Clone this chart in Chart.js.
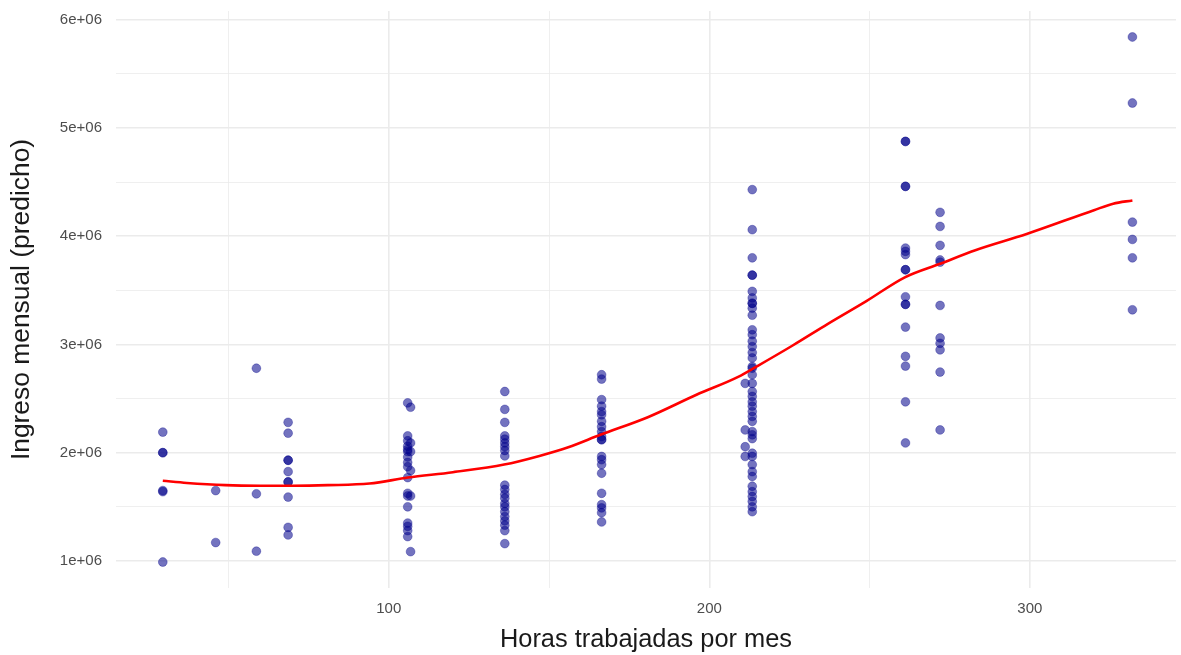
<!DOCTYPE html>
<html>
<head>
<meta charset="utf-8">
<title>Ingreso mensual vs horas</title>
<script src="https://cdn.jsdelivr.net/npm/chart.js@4.4.1/dist/chart.umd.min.js"></script>
<style>
  body { margin: 0; background: #fff; }
  #wrap { width: 1181px; height: 655px; position: relative; }
</style>
</head>
<body>
<div id="wrap"><canvas id="grafico"></canvas></div>
<script>
// Horas trabajadas por mes (cada grupo de puntos)
const horas = [29.5, 46, 58.7, 68.6, 105.9, 106.8, 136.2, 166.4, 211.2, 213.4, 261.2, 272, 332];

// Ingreso mensual predicho por grupo (en millones)
const ingresos = [
  [2.19, 2.00, 2.00, 1.64, 1.65, 0.99],
  [1.65, 1.17],
  [2.78, 1.62, 1.09],
  [2.28, 2.18, 1.93, 1.93, 1.825, 1.73, 1.73, 1.59, 1.31, 1.24],
  [2.46, 2.155, 2.11, 2.06, 2.03, 2.01, 1.96, 1.91, 1.87, 1.77, 1.625, 1.60, 1.50, 1.35, 1.32, 1.28, 1.225],
  [2.42, 2.09, 2.01, 1.835, 1.60, 1.086],
  [2.565, 2.40, 2.28, 2.155, 2.125, 2.09, 2.055, 2.02, 1.97, 1.70, 1.66, 1.615, 1.58, 1.53, 1.50, 1.455, 1.41, 1.37, 1.33, 1.28, 1.16],
  [2.72, 2.68, 2.49, 2.43, 2.38, 2.35, 2.29, 2.24, 2.195, 2.15, 2.12, 2.12, 1.965, 1.935, 1.89, 1.81, 1.625, 1.52, 1.49, 1.445, 1.36],
  [2.64, 2.21, 2.055, 1.965],
  [4.43, 4.06, 3.80, 3.64, 3.64, 3.49, 3.43, 3.38, 3.38, 3.335, 3.27, 3.135, 3.09, 3.03, 2.98, 2.925, 2.875, 2.795,
   2.78, 2.72, 2.64, 2.565, 2.52, 2.47, 2.43, 2.38, 2.335, 2.29, 2.195, 2.165, 2.13, 1.995, 1.965, 1.89, 1.825,
   1.78, 1.69, 1.64, 1.595, 1.55, 1.50, 1.455],
  [4.875, 4.875, 4.46, 4.46, 3.89, 3.86, 3.83, 3.69, 3.69, 3.44, 3.37, 3.37, 3.16, 2.89, 2.80, 2.47, 2.09],
  [4.22, 4.09, 3.915, 3.78, 3.76, 3.36, 3.06, 3.01, 2.95, 2.745, 2.21],
  [5.84, 5.23, 4.13, 3.97, 3.80, 3.32]
];

// Curva suavizada (loess)
const curvaHoras = [29.5, 37, 49, 60, 70, 81, 94, 106, 120, 136, 147, 156, 166, 181, 196, 209, 215, 226, 237, 249, 261, 272, 283, 299, 320, 326, 332];
const curvaIngreso = [1.74, 1.72, 1.70, 1.695, 1.695, 1.70, 1.715, 1.77, 1.82, 1.89, 1.97, 2.05, 2.165, 2.33, 2.535, 2.70, 2.80, 2.99, 3.19, 3.40, 3.62, 3.745, 3.87, 4.02, 4.24, 4.30, 4.33];

// Marcas de los ejes
const ticksX = [50, 100, 150, 200, 250, 300];
const etiquetasX = ['', '100', '', '200', '', '300'];
const ticksY = [1, 1.5, 2, 2.5, 3, 3.5, 4, 4.5, 5, 5.5, 6];
const etiquetasY = ['1e+06', '', '2e+06', '', '3e+06', '', '4e+06', '', '5e+06', '', '6e+06'];

const puntos = [];
horas.forEach(function(h, i) {
  ingresos[i].forEach(function(v) { puntos.push({x: h, y: v * 1e6}); });
});
const curva = curvaHoras.map(function(h, i) { return {x: h, y: curvaIngreso[i] * 1e6}; });

const fuente = 'Liberation Sans, Arial, sans-serif';
function esMayor(lista, etiquetas, v) {
  const i = lista.indexOf(v);
  return i >= 0 && etiquetas[i] !== '';
}

const ctx = document.getElementById('grafico').getContext('2d');
new Chart(ctx, {
  type: 'scatter',
  data: {
    datasets: [
      {
        type: 'line',
        data: curva,
        borderColor: '#ff0000',
        borderWidth: 2.6,
        pointRadius: 0,
        fill: false,
        cubicInterpolationMode: 'monotone'
      },
      {
        data: puntos,
        backgroundColor: 'rgba(0, 0, 139, 0.55)',
        borderColor: 'rgba(0, 0, 139, 0.55)',
        borderWidth: 0.6,
        pointRadius: 4.4
      }
    ]
  },
  options: {
    responsive: true,
    maintainAspectRatio: false,
    animation: false,
    layout: { padding: { top: 11, right: 0, left: 0, bottom: 0 } },
    plugins: { legend: { display: false }, tooltip: { enabled: false } },
    scales: {
      x: {
        type: 'linear',
        min: 14.9,
        max: 345.6,
        afterBuildTicks: function(s) { s.ticks = ticksX.map(function(v) { return {value: v}; }); },
        afterFit: function(s) { s.height = 67; s.paddingRight = 0; s.paddingLeft = 0; },
        border: { display: false },
        grid: {
          drawTicks: true,
          tickLength: 12,
          tickColor: 'rgba(0,0,0,0)',
          color: '#ebebeb',
          lineWidth: function(c) { return esMayor(ticksX, etiquetasX, c.tick.value) ? 1.6 : 0.8; }
        },
        ticks: {
          autoSkip: false,
          maxRotation: 0,
          padding: 0,
          color: '#4d4d4d',
          font: { family: fuente, size: 15 },
          callback: function(v) { return etiquetasX[ticksX.indexOf(v)]; }
        },
        title: {
          display: true,
          text: 'Horas trabajadas por mes',
          color: '#1a1a1a',
          font: { family: fuente, size: 25.4 },
          padding: { top: 0, bottom: 0 }
        }
      },
      y: {
        type: 'linear',
        min: 0.75e6,
        max: 6.08e6,
        afterBuildTicks: function(s) { s.ticks = ticksY.map(function(v) { return {value: v * 1e6}; }); },
        afterFit: function(s) { s.width = 116; },
        border: { display: false },
        grid: {
          drawTicks: true,
          tickLength: 14,
          tickColor: 'rgba(0,0,0,0)',
          color: '#ebebeb',
          lineWidth: function(c) { return esMayor(ticksY, etiquetasY, c.tick.value / 1e6) ? 1.6 : 0.8; }
        },
        ticks: {
          autoSkip: false,
          padding: 0,
          color: '#4d4d4d',
          font: { family: fuente, size: 15 },
          callback: function(v) { return etiquetasY[ticksY.indexOf(v / 1e6)]; }
        },
        title: {
          display: true,
          text: 'Ingreso mensual (predicho)',
          color: '#1a1a1a',
          font: { family: fuente, size: 26.4 },
          padding: { top: 6, bottom: 0 }
        }
      }
    }
  }
});
</script>
</body>
</html>
